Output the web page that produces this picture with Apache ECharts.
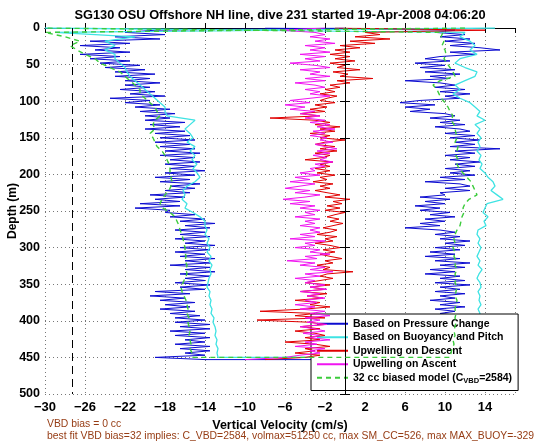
<!DOCTYPE html>
<html><head><meta charset="utf-8">
<script src="https://cdn.jsdelivr.net/npm/echarts@6/dist/echarts.min.js"></script>
<style>html,body{margin:0;padding:0;background:#fff}#c{width:560px;height:442px}</style>
</head><body><div id="c"></div>
<script>
// depth grids (m)
const depthFine = [0,3,6,9,12,15,18,21,24,27,
30,33,36,39,42,45,48,51,54,57,
60,63,66,69,72,75,78,81,84,87,
90,93,96,99,102,105,108,111,114,117,
120,123,126,129,132,135,138,141,144,147,
150,153,156,159,162,165,168,171,174,177,
180,183,186,189,192,195,198,201,204,207,
210,213,216,219,222,225,228,231,234,237,
240,243,246,249,252,255,258,261,264,267,
270,273,276,279,282,285,288,291,294,297,
300,303,306,309,312,315,318,321,324,327,
330,333,336,339,342,345,348,351,354,357,
360,363,366,369,372,375,378,381,384,387,
390,393,396,399,402,405,408,411,414,417,
420,423,426,429,432,435,438,441,444,447,
450,453];
const depthCoarse = [0,6,12,18,24,30,36,42,48,54,
60,66,72,78,84,90,96,102,108,114,
120,126,132,138,144,150,156,162,168,174,
180,186,192,198,204,210,216,222,228,234,
240,246,252,258,264,270,276,282,288,294,
300,306,312,318,324,330,336,342,348,354,
360,366,372,378,384,390,396,402,408,414,
420,426,432,438,444,450];

// Based on Pressure Change (cm/s), descent and ascent, on depthFine
const pressDown = [0,-19,-22,-18,-23,-18.5,-25.5,-21.5,-26.5,-22.5,
-25,-21.5,-26.5,-22.5,-25.5,-21.5,-24.5,-20.5,-24,-20,
-23,-19,-23,-19.5,-22,-18.5,-22,-19.5,-22.5,-19,
-21.5,-18,-23.5,-19.5,-22,-18.5,-21,-17.5,-20.5,-17,
-20,-17.5,-20,-16,-19.5,-16.5,-20,-16,-19,-15.5,
-18.5,-15,-19,-15.5,-18.5,-15,-18,-14.5,-18.5,-15,
-17.5,-14.5,-18,-15,-17.5,-14,-18,-15,-19,-15.5,
-18.5,-14.5,-17.5,-15,-18,-15.5,-19.5,-16,-19,-16.5,
-20.5,-16.5,-21,-17.5,-18,-15,-17.5,-14,-16.5,-13,
-16,-13.5,-17,-14,-16.5,-13.5,-17,-14,-16,-13,
-16.5,-13.5,-17,-14,-16.5,-13,-16,-13.5,-17.5,-13.5,
-16,-13,-16.5,-13.5,-16,-14,-17,-13.5,-16.5,-14,
-19,-15.5,-19.5,-16,-18.5,-15,-18,-15.5,-18.5,-15,
-17.5,-14.5,-17,-14,-17,-13.5,-16.5,-13.5,-17.5,-14,
-17,-13.5,-16,-14,-17,-13.5,-16.5,-13.5,-16,-14,
-19,-14];
const pressUp = [-8,11,9,12,9.5,12.5,10,13,10.5,13.5,
15.5,10.5,13,9.5,8,10.5,7,10,7.5,11,
8,11.5,8.5,10.5,6,9.5,11,9,12,9.5,
12.5,10,11.5,7.5,5.5,9,6,8.5,6.5,10,
11,8.5,11.5,9.5,12,9,11.5,12.5,10,13,
10.5,13.5,11,13,10.5,15.5,11,13,10,12.5,
10.5,13.5,11,13,10,12.5,10.5,13,9.5,12,
8,11.5,12.5,10,12.5,9.5,10,7.5,10.5,8,
10,7,9.5,7.5,10.5,8.5,11,8,10,7.5,
9.5,6,9.5,11,9,11.5,9.5,12.5,10,12,
9,11.5,8.5,11,8,11.5,9,12.5,9.5,12,
8.5,11,8,11.5,9.5,12,9,12.5,9.5,11.5,
9,12,9.5,11,8.5,11.5,9.5,12,9,11,
9.5,11.5,9,11,9.5,11.5,9,11,9.5,11.5,
9,11,9.5,11.5,9,11,9.5,11.5,9,11,
10,10];

// Based on Buoyancy and Pitch, on depthCoarse
const buoyDown = [15,-29,-21,-24,-23,-24,-23,-23,-22.5,-22,
-21.8,-21.5,-21,-20.5,-20,-19.5,-19,-18.5,-18,-18,
-17.8,-15,-15.5,-16,-15.5,-15.2,-15.8,-15,-15.5,-15,
-15.3,-14.8,-15.2,-14.8,-14.5,-15,-15.8,-16.2,-16,-16.3,
-15.8,-16,-15.2,-14.5,-14,-14,-13.8,-14,-13.6,-13.8,
-13.5,-13.8,-13.4,-13.6,-13.3,-13.5,-13.4,-13.6,-13.7,-13.8,
-13.5,-13.6,-13.4,-13.5,-13.3,-13.4,-13.1,-13.2,-13,-12.9,
-13,-12.8,-12.9,-12.7,-12.8,-12.7];
const buoyUp = [-30,12,11.5,12.5,13,12.5,13.2,11.5,11,12,
13.2,13,12,11,11.5,10.8,11.5,12.5,13,13.5,
13.2,14,13,13.5,13.2,13.6,13.3,13.5,13.2,13.6,
13.4,13.7,13.5,14,14.3,14.8,15,14.6,15.2,15.8,
14.2,14,13.8,14.3,13.9,14.1,13.3,13.2,13.5,13.3,
13.6,13.4,13.2,13.5,13.3,13.7,13.4,13.2,13.5,13.6,
13.3,13.5,13.4,13.6,13.3,13.5,13.4,13.5,13.3,13.4,
13.2,13.3,13.1,13.2,13,13];

// Upwelling on Descent / Ascent, on depthFine
const upDescent = [-1,14,2,3.5,1,4.5,0.5,3,-0.5,1.5,
-1,0.5,-1.5,0.5,-1,1,-1.5,0,-0.8,1.5,
-1.2,0.3,-0.5,2.8,-0.8,0.5,-1.5,-0.5,-2,-1,
-2.5,-0.8,-1.8,-2.5,-1,-3,-1.8,-3.5,-2,-4.5,
-2.5,-7.5,-3,-1.5,-3,-0.5,-2.5,-1,-3.5,-1.5,
-2.5,0,-2,-3,-1,-2.5,-0.8,-3,-1.5,-2.2,
-4,-1.2,-2.5,-1.5,-3,-1.5,-2.8,-1,-2.5,-1.8,
-3.2,-1.2,-2.5,-1.5,-3,-1.8,-0.5,-2,0.5,-1.2,
-0.3,-1.8,-0.5,-2,0,-1,-1.8,-0.6,-1.5,-0.2,
-1.2,-2.2,-0.8,-1.5,-2.8,-0.8,-2,-1.2,-3,-1.5,
-0.5,-2.2,-1,-2.5,-1.5,-0.3,-2,-1.2,-2.8,-1.5,
-2.2,0.8,-1.8,-2.5,-1.2,-2.5,-4,-1.5,-3.5,-2,
-4.5,-1.8,-3.8,-2.2,-5,-2.5,-3.5,-1.5,-4,-8.5,
-3,-5,-2,-8.8,-3.5,-2,-4.5,-2.5,-5,-3,
-2,-4,-2.5,-6,-3,-1.5,-4,-3,-5,-2.5,
-4,-8];
const upAscent = [-2,-6.5,-3,-2,-3.5,-1.5,-3,-1,-4,-2,
-3.5,-1.5,-4.5,-2,-4,-2.5,-5.5,-3,-1.5,-4.5,
-2.5,-3.5,-1.5,-4,-2,-5,-3,-2,-4,-2.5,
-3.5,-1.5,-3.5,-5.5,-3.5,-6,-4,-5.5,-3,-4.5,
-2.5,-4,-2,-3.5,-1.5,-2.8,-1,-3.2,-2,-3.5,
-1.8,-2.5,-1.2,-3,-2,-0.8,-2.8,-1.5,-3.2,-1.8,
-2.5,-1.2,-3,-2,-3.5,-3,-4.5,-2.5,-5,-3.5,
-5.5,-3,-4.5,-6,-3.5,-5,-2.5,-4,-6.2,-3.5,
-5.5,-3,-4.5,-2.5,-4,-3,-5,-2.5,-4,-3,
-4.5,-2.5,-3.5,-2.5,-4.5,-3,-5.5,-2,-4,-3,
-5,-2.5,-3.5,-1.5,-4,-2.8,-5.8,-3,-4.5,-2,
-3.5,-1.2,-4,-2.5,-5,-3,-4,-2,-3.5,-1.8,
-4.5,-2.5,-3.8,-2,-4,-2.8,-5,-3,-4.5,-2,
-3.5,-1.5,-4,-2.5,-3.8,-1.8,-4.5,-3,-2,-4.2,
-2.5,-3.5,-1.5,-4,-2.8,-5,-2,-3.5,-2.5,-4.5,
-6,-10];

// 32 cc biased model, on depthCoarse
const modelDown = [12,-30,-28,-26.5,-27.5,-26.8,-26,-25,-24.5,-23.5,
-22.5,-22,-21.5,-21,-20.5,-20.5,-20,-19.5,-19,-18.8,
-18.5,-19,-19.2,-19,-19.5,-19.2,-19,-18.8,-18.3,-18,
-17.8,-17.6,-17.5,-17.5,-17.4,-17.3,-17.4,-17.6,-18,-18.3,
-18.5,-18.2,-17.5,-17,-16.8,-16.6,-16.5,-16.3,-16.2,-16.1,
-16,-16,-15.9,-16,-15.8,-15.9,-15.8,-16,-16.2,-16.4,
-16.3,-16.1,-15.9,-15.8,-15.7,-15.8,-15.6,-15.7,-15.6,-15.5,
-15.6,-15.5,-15.4,-15.5,-15.3,-15.2];
const modelUp = [-30,9.8,9.6,9.9,9.7,10,10.1,9.9,10.2,10.5,
10.8,11,9.5,8.8,9.2,9.4,9.6,10,10.3,10.5,
10.8,10.6,10.9,11,11.1,11.2,11,11.3,11.2,11.1,
11.3,11.2,11.4,11.8,12.2,12.6,12.8,13,13.2,12.4,
12,11.8,11.9,11.7,11.6,11.5,11.2,11,10.9,11,
10.8,11,10.9,11.1,11,11.2,11,11.1,11,11.2,
11.1,11,11.2,11.1,11,11.1,11,11.1,11,10.9,
11,10.8,10.9,10.7,10.6,10.5];

// reference lines (cm/s)
const refDashedX = -27.24;
const refSolidX = 0;

// axes / ticks
const xMin = -30, xMax = 17, xStep = 4;
const yMin = 0, yMax = 500, yStep = 50;

const names = ['Based on Pressure Change','Based on Buoyancy and Pitch','Upwelling on Descent','Upwelling on Ascent','32 cc biased model (CVBD=2584)'];
const titleText = 'SG130 OSU Offshore NH line, dive 231 started 19-Apr-2008 04:06:20';
const xName = 'Vertical Velocity (cm/s)';
const yName = 'Depth (m)';
const note1 = 'VBD bias = 0 cc';
const note2 = 'best fit VBD bias=32 implies: C_VBD=2584, volmax=51250 cc, max SM_CC=526, max MAX_BUOY=-329';

function dive(depth, down, up){
  const a = depth.map((d,i)=>[down[i], d]);
  const b = depth.map((d,i)=>[up[i], d]).reverse();
  return a.concat(b);
}
function prof(depth, v){ return depth.map((d,i)=>[v[i], d]); }

const FONT = '"Liberation Sans", Arial, Helvetica, sans-serif';
const cBlue='#0c0cd0', cCyan='#3ee3e3', cRed='#e00000', cMag='#f014f0', cGreen='#3ccc3c';
const fmt = v => (v<0 ? '\u2212'+Math.abs(v) : String(v));

const chart = echarts.init(document.getElementById('c'), null, {renderer:'canvas'});
chart.setOption({
  animation:false,
  backgroundColor:'#fff',
  title:{text:titleText,left:'center',top:4,textStyle:{fontFamily:FONT,fontSize:12.8,fontWeight:'bold',color:'#000'}},
  grid:{left:45,right:45,top:28,bottom:48,show:false,outerBoundsMode:'none',containLabel:false},
  xAxis:[{
    type:'value',min:xMin,max:xMax,interval:xStep,position:'bottom',
    name:xName,nameLocation:'middle',nameGap:24,
    nameTextStyle:{fontFamily:FONT,fontSize:12.5,fontWeight:'bold',color:'#000'},
    axisLine:{show:true,lineStyle:{color:'#000',width:1}},
    axisTick:{show:true,inside:true,length:5,lineStyle:{color:'#000'}},
    axisLabel:{showMaxLabel:false,margin:7,formatter:fmt,fontFamily:FONT,fontSize:13,fontWeight:'bold',color:'#000'},
    splitLine:{show:true,lineStyle:{type:[1,3],color:'#777',width:1}}
  },{
    type:'value',min:xMin,max:xMax,interval:xStep,position:'top',
    axisLine:{show:true,lineStyle:{color:'#000',width:1}},
    axisTick:{show:true,inside:true,length:5,lineStyle:{color:'#000'}},
    axisLabel:{show:false},splitLine:{show:false}
  }],
  yAxis:[{
    type:'value',min:yMin,max:yMax,interval:yStep,inverse:true,position:'left',
    axisLine:{show:true,lineStyle:{color:'#000',width:1}},
    axisTick:{show:true,inside:true,length:5,lineStyle:{color:'#000'}},
    axisLabel:{margin:5,fontFamily:FONT,fontSize:12.5,fontWeight:'bold',color:'#000'},
    splitLine:{show:true,lineStyle:{type:[1,3],color:'#777',width:1}}
  },{
    type:'value',min:yMin,max:yMax,interval:yStep,inverse:true,position:'right',
    axisLine:{show:true,lineStyle:{color:'#000',width:1}},
    axisTick:{show:true,inside:true,length:5,lineStyle:{color:'#000'}},
    axisLabel:{show:false},splitLine:{show:false}
  }],
  legend:{
    orient:'vertical',left:311,top:314,padding:[3,6,6,5],itemGap:0,itemWidth:31,itemHeight:12,
    backgroundColor:'#fff',borderColor:'#000',borderWidth:1,borderRadius:0,
    itemStyle:{opacity:0},
    data:names,
    formatter:function(n){ if(n===names[4]) return '{t|32 cc biased model (C}{s|VBD}{t|=2584)}'; return n; },
    textStyle:{fontFamily:FONT,fontSize:10.5,fontWeight:'bold',color:'#000',lineHeight:13.5,
      rich:{t:{fontFamily:FONT,fontSize:10.5,fontWeight:'bold',color:'#000',lineHeight:13.5},
            s:{fontFamily:FONT,fontSize:7.5,fontWeight:'bold',color:'#000',lineHeight:13.5,verticalAlign:'bottom',padding:[4,0,0,0]}}}
  },
  graphic:[
    {type:'text',x:13,y:211,rotation:Math.PI/2,style:{text:yName,x:0,y:0,align:'center',verticalAlign:'middle',fill:'#000',font:'bold 12px '+FONT}},
    {type:'text',left:47,top:419,style:{text:note1,fill:'#963c14',font:'10.4px '+FONT}},
    {type:'text',left:47,top:431,style:{text:note2,fill:'#963c14',font:'10.4px '+FONT}}
  ],
  series:[
    {type:'line',name:names[0],data:dive(depthFine,pressDown,pressUp),symbol:'none',lineStyle:{color:cBlue,width:1},itemStyle:{color:cBlue},z:2},
    {type:'line',name:names[1],data:dive(depthCoarse,buoyDown,buoyUp),symbol:'none',lineStyle:{color:cCyan,width:1.3},itemStyle:{color:cCyan},z:3},
    {type:'line',name:names[2],data:prof(depthFine,upDescent),symbol:'none',lineStyle:{color:cRed,width:1},itemStyle:{color:cRed},z:4},
    {type:'line',name:names[3],data:prof(depthFine,upAscent),symbol:'none',lineStyle:{color:cMag,width:1},itemStyle:{color:cMag},z:5},
    {type:'line',name:names[4],data:dive(depthCoarse,modelDown,modelUp),symbol:'none',lineStyle:{color:cGreen,width:1.4,type:[5,4]},itemStyle:{color:cGreen},z:6,
      markLine:{silent:true,symbol:['none','none'],label:{show:false},
        data:[{xAxis:refDashedX,lineStyle:{type:[8,5],color:'#000',width:1}},
              {xAxis:refSolidX,lineStyle:{type:'solid',color:'#000',width:1}}]}}
  ]
});
</script></body></html>
